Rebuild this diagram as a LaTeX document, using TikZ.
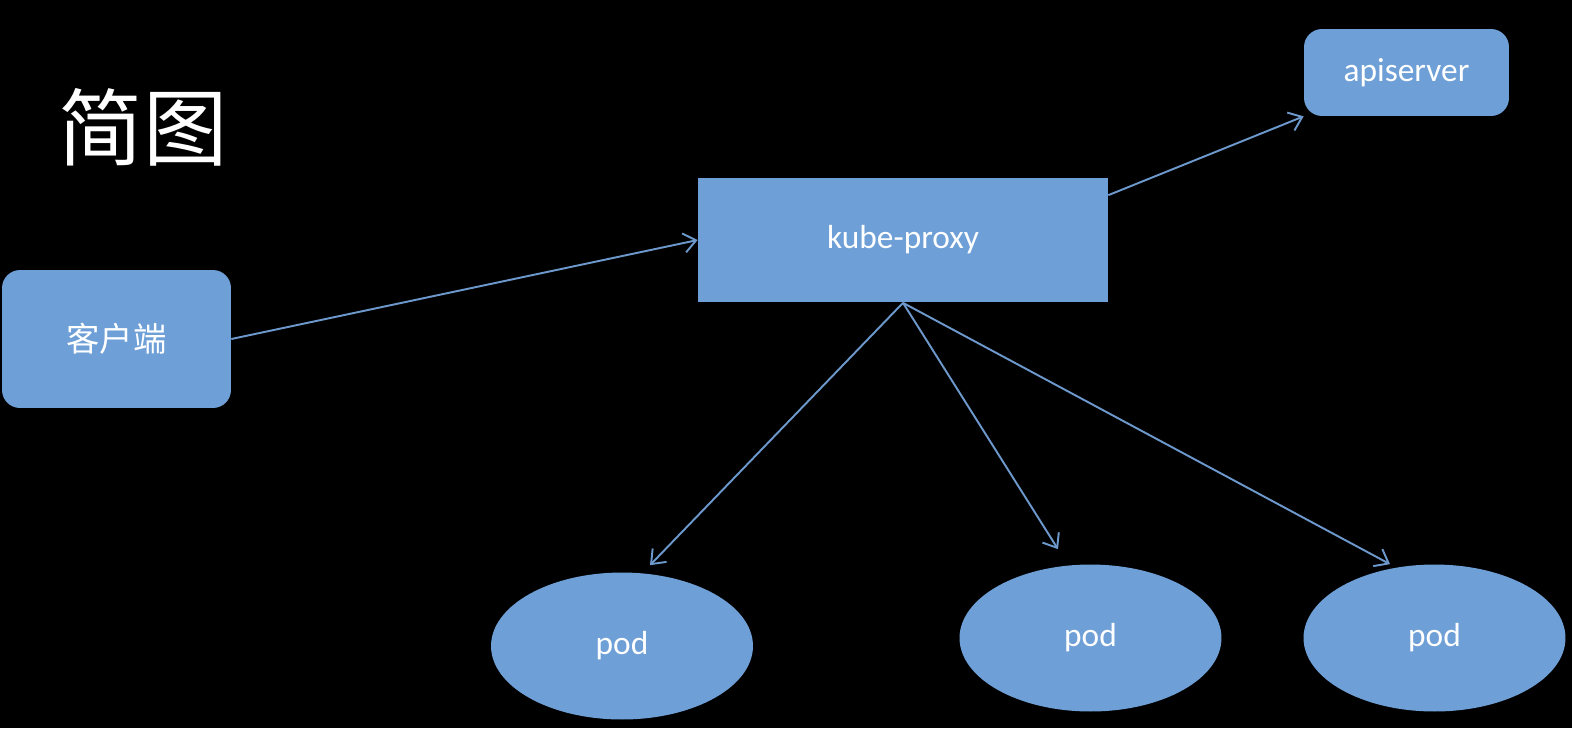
\documentclass[tikz,border=0pt]{standalone}
\usepackage{fontspec}
\setmainfont{Carlito}
\newfontfamily\cjk{Noto Sans CJK SC}
\usetikzlibrary{positioning, arrows.meta, shapes.geometric}
\definecolor{Ink}     {HTML}{000000}
\definecolor{BoxBlue} {HTML}{6E9FD6}
\definecolor{LineBlue}{HTML}{6C98CC}

\begin{document}
\begin{tikzpicture}[x=0.02cm, y=-0.02cm,
    box/.style={fill=BoxBlue, text=white, inner sep=0pt, font=\fontsize{19}{22}\selectfont},
    roundbox/.style={box, rounded corners=0.36cm},
    podshape/.style={box, ellipse, minimum width=5.24cm, minimum height=2.94cm},
    link/.style={LineBlue, line width=1.1pt, -{Straight Barb[length=7pt, width=11pt, line width=1.1pt]}}]
      \fill[Ink] (0,0) rectangle (1572,728);
      \useasboundingbox (0,0) rectangle (1572,728);
      % title
      \node[text=white, font=\cjk\fontsize{48}{52}\selectfont] (title) at (143,127) {简图};
      % boxes
      \node[roundbox, minimum width=4.58cm, minimum height=2.76cm] (client) at (116.5,339) {\cjk 客户端};
      \node[box, minimum width=8.2cm, minimum height=2.5cm] (proxy) at (903,240) {kube-proxy};
      \node[roundbox, minimum width=4.1cm, minimum height=1.74cm] (api) at (1406.5,72.5) {apiserver};
      \node[podshape] (pod1) at (622,646) {pod};
      \node[podshape] (pod2) at (1090.5,638) {pod};
      \node[podshape] (pod3) at (1434.5,638) {pod};
      % arrows
      \draw[link] (client.east) -- (proxy.west);
      \draw[link] ([yshift=-0.36cm]proxy.north east) -- (api.south west);
      \draw[link] (proxy.south) -- ([xshift=0.56cm, yshift=0.14cm]pod1.north);
      \draw[link] (proxy.south) -- ([xshift=-0.65cm, yshift=0.3cm]pod2.north);
      \draw[link] (proxy.south) -- ([xshift=-0.89cm]pod3.north);
    \end{tikzpicture}
\end{document}
